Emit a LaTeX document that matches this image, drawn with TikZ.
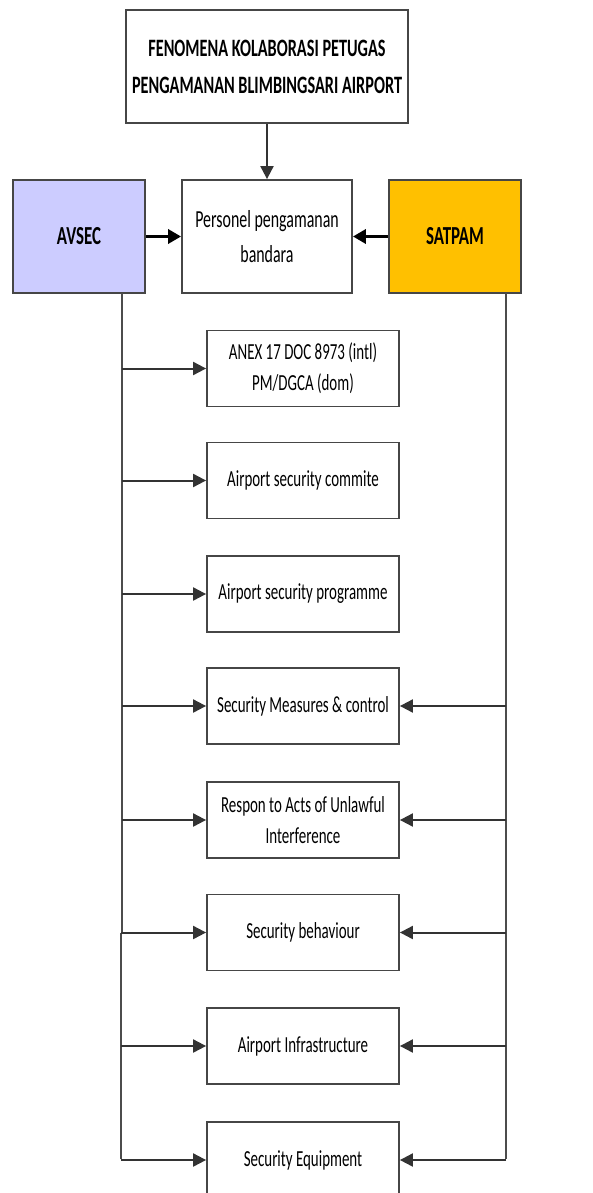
\documentclass[tikz,border=0pt]{standalone}
\usepackage{fontspec}
\setmainfont{Carlito}[FakeStretch=0.65]
\usetikzlibrary{arrows.meta}
\definecolor{avsecc}{RGB}{204,204,255}
\definecolor{satpamc}{RGB}{255,192,0}
\definecolor{edgec}{RGB}{70,70,70}
\begin{document}
\begin{tikzpicture}[x=1pt,y=-1pt,
  box/.style={draw=edgec,line width=1.8pt,rectangle,align=center,inner sep=2pt},
  small/.style={box,minimum width=192pt,minimum height=76pt,font=\fontsize{23}{31}\selectfont},
  big/.style={box,minimum width=132pt,minimum height=113pt,font=\bfseries\fontsize{26}{30}\selectfont},
  conn/.style={draw=black!80,line width=2pt,-{Triangle[length=13pt,width=13pt]}},
  thick conn/.style={draw=black,line width=3.5pt,-{Triangle[length=13pt,width=14pt]}},
  bus/.style={draw=black!70,line width=2pt}]
\useasboundingbox (0,0) rectangle (593,1193);
\node[box,minimum width=282pt,minimum height=113pt,font=\bfseries\fontsize{25}{37}\selectfont] (title) at (267,66.5) {FENOMENA KOLABORASI PETUGAS\\PENGAMANAN BLIMBINGSARI AIRPORT};
\node[big,fill=avsecc] (avsec) at (79,236.5) {AVSEC};
\node[box,minimum width=170pt,minimum height=113pt,font=\fontsize{24.5}{35}\selectfont] (pers) at (267,236.5) {Personel pengamanan\\bandara};
\node[big,fill=satpamc] (satpam) at (455,236.5) {SATPAM};
\node[small] (b1) at (303,368.5) {ANEX 17 DOC 8973 (intl)\\PM/DGCA (dom)};
\node[small] (b2) at (303,480.5) {Airport security commite};
\node[small] (b3) at (303,594) {Airport security programme};
\node[small] (b4) at (303,706) {Security Measures \& control};
\node[small] (b5) at (303,820) {Respon to Acts of Unlawful\\Interference};
\node[small] (b6) at (303,932.5) {Security behaviour};
\node[small] (b7) at (303,1046) {Airport Infrastructure};
\node[small] (b8) at (303,1160) {Security Equipment};
\draw[conn] (title.south) -- (pers.north);
\draw[thick conn] (avsec.east) -- (pers.west);
\draw[thick conn] (satpam.west) -- (pers.east);
% left bus
\coordinate (ltop) at (122,293);
\coordinate (ljog) at (122,933);
\coordinate (ljog2) at (120.7,933);
\coordinate (lbot) at (120.7,1159);
\draw[bus] (ltop) -- (ljog);
\draw[bus] (ljog2) -- (lbot);
\foreach \i in {1,...,5}{\draw[conn] (b\i.west -| ltop) -- (b\i.west);}
\foreach \i in {6,7,8}{\draw[conn] (b\i.west -| lbot) -- (b\i.west);}
% right bus
\coordinate (rtop) at (506,293);
\coordinate (rbot) at (506,1159);
\draw[bus] (rtop) -- (rbot);
\foreach \i in {4,...,8}{\draw[conn] (b\i.east -| rtop) -- (b\i.east);}
\end{tikzpicture}
\end{document}
